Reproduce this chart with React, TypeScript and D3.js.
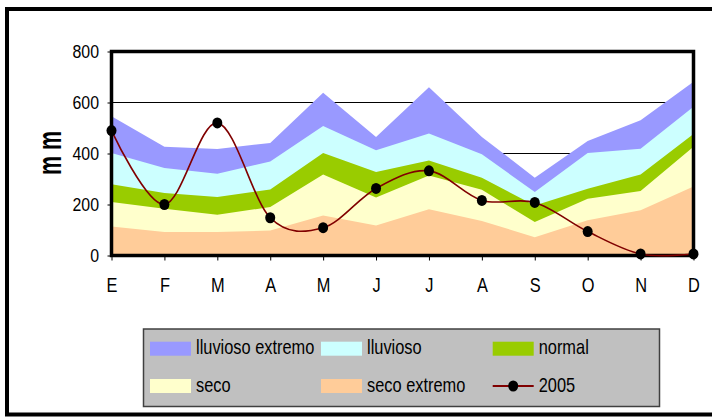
import React, { useRef, useEffect } from "react";
import * as d3 from "d3";

const months = ["E", "F", "M", "A", "M", "J", "J", "A", "S", "O", "N", "D"];
const yTicks = [0, 200, 400, 600, 800];

// upper limit of each band (mm)
const lluviosoExtremo = [546, 426, 418, 441, 638, 465, 660, 465, 305, 449, 530, 681];
const lluvioso = [402, 343, 321, 369, 508, 413, 478, 397, 249, 402, 419, 583];
const normal = [279, 245, 229, 259, 402, 327, 373, 305, 196, 262, 318, 476];
const seco = [210, 183, 160, 190, 318, 227, 314, 258, 131, 223, 253, 426];
const secoExtremo = [114, 92, 92, 98, 157, 118, 181, 135, 72, 138, 177, 271];
const y2005 = [490, 200, 520, 148, 109, 263, 332, 216, 208, 94, 6, 6];

const W = 712;
const H = 417;
const FONT = "'Liberation Sans', Arial, sans-serif";
const SX = 0.82; // glyphs in the original are squeezed horizontally

export default function App() {
  const ref = useRef<SVGSVGElement>(null);

  useEffect(() => {
    const svg = d3.select(ref.current);
    svg.selectAll("*").remove();

    const left = 111.5, right = 693.5, top = 51.5, bottom = 255.5;

    const x = d3.scalePoint<number>().domain(d3.range(months.length)).range([left, right]);
    const y = d3.scaleLinear().domain([0, 800]).range([bottom, top]);

    svg.append("rect").attr("width", W).attr("height", H).attr("fill", "#fff");

    // chart frame
    svg.append("rect")
      .attr("x", 7).attr("y", 9).attr("width", 760).attr("height", 405.5)
      .attr("fill", "none").attr("stroke", "#000").attr("stroke-width", 4);

    // gridlines (behind the areas)
    svg.append("g").selectAll("line").data(yTicks.slice(1, -1)).join("line")
      .attr("x1", left).attr("x2", right)
      .attr("y1", d => y(d)).attr("y2", d => y(d))
      .attr("stroke", "#000").attr("stroke-width", 1);

    const bands = [
      { name: "lluvioso extremo", values: lluviosoExtremo, color: "#9999FF" },
      { name: "lluvioso", values: lluvioso, color: "#CCFFFF" },
      { name: "normal", values: normal, color: "#99CC00" },
      { name: "seco", values: seco, color: "#FFFFCC" },
      { name: "seco extremo", values: secoExtremo, color: "#FFCC99" },
    ];

    const area = d3.area<number>()
      .x((_, i) => x(i)!)
      .y0(y(0))
      .y1(d => y(d));

    svg.append("g").selectAll("path").data(bands).join("path")
      .attr("d", d => area(d.values))
      .attr("fill", d => d.color);

    // plot area border
    svg.append("rect")
      .attr("x", left).attr("y", top).attr("width", right - left).attr("height", bottom - top)
      .attr("fill", "none").attr("stroke", "#000").attr("stroke-width", 3.5);

    // y axis
    const yAxis = svg.append("g")
      .attr("transform", `translate(${left},0)`)
      .call(d3.axisLeft(y).tickValues(yTicks).tickSize(4).tickSizeOuter(0))
      .attr("font-family", FONT).attr("font-size", 18.5);
    yAxis.select(".domain").remove();
    yAxis.selectAll("line").attr("stroke", "#000");
    yAxis.selectAll("text")
      .attr("x", 0)
      .attr("fill", "#000")
      .attr("transform", `translate(-12.5,0) scale(0.86,1)`);

    // x axis
    const xAxis = svg.append("g")
      .attr("transform", `translate(0,${bottom})`)
      .call(d3.axisBottom(x).tickSize(5).tickPadding(17).tickSizeOuter(0).tickFormat(i => months[i as number]))
      .attr("font-family", FONT).attr("font-size", 20);
    xAxis.select(".domain").remove();
    xAxis.selectAll("line").attr("stroke", "#000");
    xAxis.selectAll("text").attr("fill", "#000").attr("transform", `scale(${SX},1)`);

    // y axis title
    svg.append("text")
      .attr("transform", "translate(61,153) rotate(-90) scale(0.65,1)")
      .attr("text-anchor", "middle")
      .attr("font-family", FONT).attr("font-size", 33).attr("font-weight", "bold")
      .text("m m");

    // 2005 smoothed line
    const line = d3.line<number>()
      .x((_, i) => x(i)!)
      .y(d => y(d))
      .curve(d3.curveCardinal.tension(0));

    svg.append("path")
      .attr("d", line(y2005))
      .attr("fill", "none").attr("stroke", "#800000").attr("stroke-width", 1.6);

    svg.append("g").selectAll("ellipse").data(y2005).join("ellipse")
      .attr("cx", (_, i) => x(i)!).attr("cy", d => y(d))
      .attr("rx", 5).attr("ry", 5.5).attr("fill", "#000");

    // legend
    const lg = svg.append("g");
    lg.append("rect")
      .attr("x", 143.5).attr("y", 329).attr("width", 516).attr("height", 77.5)
      .attr("fill", "#C0C0C0").attr("stroke", "#404040").attr("stroke-width", 1.5);

    const colX = [150, 321, 492.7];
    const rowY = [348.7, 386];
    const entries = [
      bands[0], bands[1], bands[2],
      bands[3], bands[4], { name: "2005", values: y2005, color: "" },
    ];
    entries.forEach((e, k) => {
      const cx = colX[k % 3];
      const cy = rowY[Math.floor(k / 3)];
      if (e.color) {
        lg.append("rect")
          .attr("x", cx).attr("y", cy - 7).attr("width", 41).attr("height", 14)
          .attr("fill", e.color);
      } else {
        lg.append("line")
          .attr("x1", cx).attr("x2", cx + 41).attr("y1", cy).attr("y2", cy)
          .attr("stroke", "#800000").attr("stroke-width", 2);
        lg.append("ellipse")
          .attr("cx", cx + 20.5).attr("cy", cy).attr("rx", 5).attr("ry", 5.5).attr("fill", "#000");
      }
      lg.append("text")
        .attr("transform", `translate(${cx + 46},${cy + 5.5}) scale(${SX},1)`)
        .attr("font-family", FONT).attr("font-size", 20).attr("fill", "#000")
        .text(e.name);
    });
  }, []);

  return (
    <svg
      ref={ref}
      width={W}
      height={H}
      style={{ position: "absolute", left: 0, top: 0 }}
    ></svg>
  );
}
